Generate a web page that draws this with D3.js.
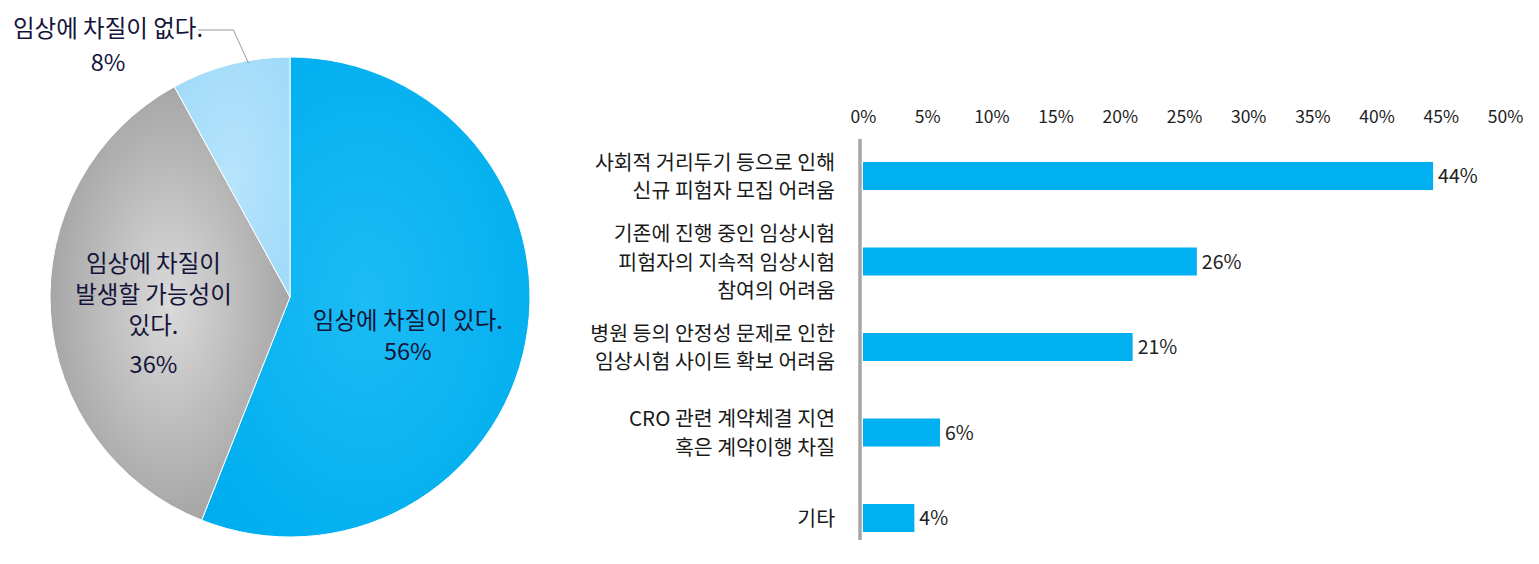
<!DOCTYPE html>
<html>
<head>
<meta charset="utf-8">
<script src="https://cdn.jsdelivr.net/npm/d3@7"></script>
<style>
  html, body { margin: 0; padding: 0; background: #fff; }
  svg { display: block; }
  text { font-family: "Noto Sans CJK KR", "Noto Sans", sans-serif; }
</style>
</head>
<body>
<svg id="chart" width="1539" height="564"></svg>
<script>
// ---- Pie data ----
const pieCategories = ["임상에 차질이 있다.", "임상에 차질이 발생할 가능성이 있다.", "임상에 차질이 없다."];
const pieLabelLines = [["임상에 차질이 있다."], ["임상에 차질이", "발생할 가능성이", "있다."], ["임상에 차질이 없다."]];
const pieValues = [56, 36, 8];

// ---- Bar data ----
const barCategories = [
  "사회적 거리두기 등으로 인해 신규 피험자 모집 어려움",
  "기존에 진행 중인 임상시험 피험자의 지속적 임상시험 참여의 어려움",
  "병원 등의 안정성 문제로 인한 임상시험 사이트 확보 어려움",
  "CRO 관련 계약체결 지연 혹은 계약이행 차질",
  "기타"
];
const barLabelLines = [
  ["사회적 거리두기 등으로 인해", "신규 피험자 모집 어려움"],
  ["기존에 진행 중인 임상시험", "피험자의 지속적 임상시험", "참여의 어려움"],
  ["병원 등의 안정성 문제로 인한", "임상시험  사이트 확보 어려움"],
  ["CRO 관련 계약체결 지연", "혹은 계약이행 차질"],
  ["기타"]
];
const barValues = [44.4, 26, 21, 6, 4];
const xTicks = [0, 5, 10, 15, 20, 25, 30, 35, 40, 45, 50];

const svg = d3.select("#chart");
const defs = svg.append("defs");

// ================= PIE =================
const cx = 290, cy = 297, R = 240;
const pieColors = [
  { edge: "#00aeef", center: "#1cbcf5" },
  { edge: "#9c9c9c", center: "#dadada" },
  { edge: "#a2dbf9", center: "#b6e4fb" }
];
pieColors.forEach((c, i) => {
  const g = defs.append("radialGradient").attr("id", "pg" + i)
    .attr("cx", "50%").attr("cy", "50%").attr("r", "60%");
  g.append("stop").attr("offset", "0%").attr("stop-color", c.center);
  g.append("stop").attr("offset", "100%").attr("stop-color", c.edge);
});

const pie = d3.pie().sort(null).value(d => d)(pieValues);
const arc = d3.arc().innerRadius(0).outerRadius(R);
const pieG = svg.append("g").attr("transform", `translate(${cx},${cy})`);

pieG.selectAll("path.slice").data(pie).join("path")
  .attr("class", "slice")
  .attr("d", arc)
  .attr("fill", (d, i) => `url(#pg${i})`)
  .attr("stroke", "#ffffff")
  .attr("stroke-width", 1);

const labelColor = "#14143a";
const pieFont = 23.5;
// inside labels
const inside = [
  { i: 0, k: 0.5, dy: 17, lh: 31, gap: 0 },
  { i: 1, k: 0.57, dy: 5, lh: 31, gap: 8 }
];
inside.forEach(o => {
  const d = pie[o.i];
  const a = (d.startAngle + d.endAngle) / 2;
  const px = Math.sin(a) * R * o.k;
  const py = -Math.cos(a) * R * o.k;
  const lines = pieLabelLines[o.i];
  const t = pieG.append("text")
    .attr("text-anchor", "middle")
    .attr("fill", labelColor)
    .attr("font-size", pieFont);
  const n = lines.length;
  const startY = py + o.dy - (n * o.lh) / 2 + 8;
  lines.forEach((ln, j) => {
    t.append("tspan").attr("x", px).attr("y", startY + j * o.lh).text(ln);
  });
  t.append("tspan").attr("x", px).attr("y", startY + n * o.lh + o.gap)
    .text(pieValues[o.i] + "%");
});

// outside label for small slice
{
  const d = pie[2];
  const a = d.startAngle + 0.65 * (d.endAngle - d.startAngle);
  const ex = Math.sin(a) * R * 0.99;
  const ey = -Math.cos(a) * R * 0.99;
  const lx = 108 - cx, ly = 37 - cy;
  pieG.append("polyline")
    .attr("points", [[ex, ey], [ex - 15, ly - 7], [lx + 90, ly - 7]].map(p => p.join(",")).join(" "))
    .attr("fill", "none").attr("stroke", "#7f7f7f").attr("stroke-width", 0.8);
  const t = pieG.append("text").attr("text-anchor", "middle").attr("fill", labelColor).attr("font-size", pieFont);
  t.append("tspan").attr("x", lx).attr("y", ly).text(pieLabelLines[2][0]);
  t.append("tspan").attr("x", lx).attr("y", ly + 34).text(pieValues[2] + "%");
}

// ================= BAR =================
const x = d3.scaleLinear().domain([0, 50]).range([863, 1505]);
const y = d3.scalePoint().domain(barCategories).range([176, 518]);
const barH = 28;

// top axis labels
const axis = d3.axisTop(x).tickValues(xTicks).tickFormat(d => d + "%").tickSize(0).tickPadding(0);
const axG = svg.append("g").attr("transform", "translate(0,123)").call(axis);
axG.select(".domain").remove();
axG.selectAll("text")
  .attr("font-family", "'Noto Sans CJK KR', 'Noto Sans', sans-serif")
  .attr("font-size", 17.5)
  .attr("fill", "#222")
  .attr("dy", 0);

// bars
svg.selectAll("rect.bar").data(barValues).join("rect")
  .attr("class", "bar")
  .attr("x", x(0))
  .attr("y", (d, i) => y(barCategories[i]) - barH / 2)
  .attr("width", d => x(d) - x(0))
  .attr("height", barH)
  .attr("fill", "#00b0f0");

// vertical axis line
svg.append("line")
  .attr("x1", 860).attr("x2", 860)
  .attr("y1", 139).attr("y2", 540)
  .attr("stroke", "#a6a6a6").attr("stroke-width", 3.5);

// value labels
svg.selectAll("text.val").data(barValues).join("text")
  .attr("class", "val")
  .attr("x", d => x(d) + 5)
  .attr("y", (d, i) => y(barCategories[i]) + 7)
  .attr("font-size", 19.5)
  .attr("fill", "#222")
  .text(d => Math.round(d) + "%");

// category labels
const lh = 28.5;
barLabelLines.forEach((lines, i) => {
  const cyb = y(barCategories[i]);
  const n = lines.length;
  const t = svg.append("text")
    .attr("text-anchor", "end")
    .attr("font-size", 20.5)
    .attr("fill", "#1a1a1a");
  lines.forEach((ln, j) => {
    t.append("tspan")
      .attr("x", 835)
      .attr("y", cyb - (n - 1) * lh / 2 + j * lh + 8)
      .text(ln);
  });
});
</script>
</body>
</html>
